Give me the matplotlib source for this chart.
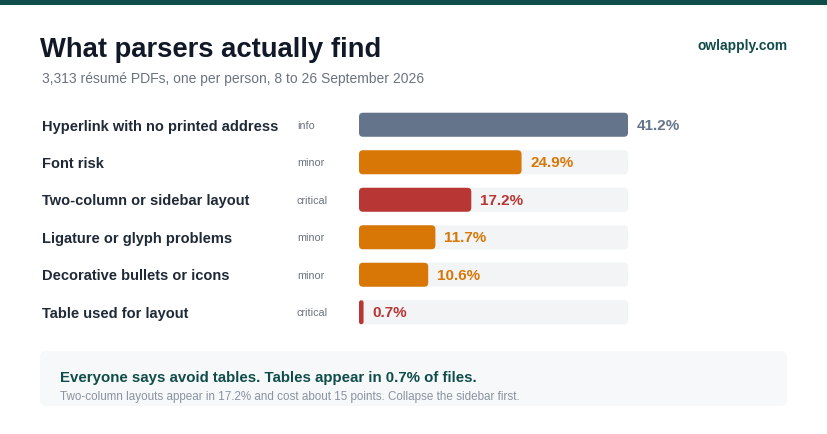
import matplotlib
matplotlib.use("Agg")
import matplotlib.pyplot as plt
from matplotlib.patches import FancyBboxPatch, Rectangle
from matplotlib import transforms

# ---- data ----
categories = ["Hyperlink with no printed address", "Font risk",
              "Two-column or sidebar layout", "Ligature or glyph problems",
              "Decorative bullets or icons", "Table used for layout"]
severity = ["info", "minor", "critical", "minor", "minor", "critical"]
values = [41.2, 24.9, 17.2, 11.7, 10.6, 0.7]
value_labels = ["41.2%", "24.9%", "17.2%", "11.7%", "10.6%", "0.7%"]

title = "What parsers actually find"
subtitle = "3,313 résumé PDFs, one per person, 8 to 26 September 2026"
brand = "owlapply.com"
callout_title = "Everyone says avoid tables. Tables appear in 0.7% of files."
callout_text = "Two-column layouts appear in 17.2% and cost about 15 points. Collapse the sidebar first."

sev_colors = {"info": "#64748b", "minor": "#d97706", "critical": "#b83634"}
TRACK = "#f3f4f6"
TEAL = "#0f4c4a"

plt.rcParams["font.family"] = ["Liberation Sans", "DejaVu Sans"]

W, H = 828, 435
fig = plt.figure(figsize=(W / 100, H / 100), dpi=100)
fig.patch.set_facecolor("white")

def fx(x):
    return x / W

def fy(y):
    return 1 - y / H

def pt(px):
    return px * 72 / 100

# top band
fig.patches.append(Rectangle((0, fy(6)), 1, 6 / H, transform=fig.transFigure,
                             facecolor=TEAL, edgecolor="none"))

# header texts
fig.text(fx(40), fy(57), title, fontsize=pt(27.4), fontweight="bold",
         color="#111827", va="baseline", ha="left")
fig.text(fx(42), fy(83), subtitle, fontsize=pt(13.9), color="#6b7280",
         va="baseline", ha="left")
fig.text(fx(788), fy(50), brand, fontsize=pt(13.8), fontweight="bold",
         color=TEAL, va="baseline", ha="right")

# bar axes: x 359..628 px, y 107..332 px
ax_left, ax_right = 359, 628
ax_top, ax_bot = 107, 332
ax = fig.add_axes([fx(ax_left), fy(ax_bot), (ax_right - ax_left) / W,
                   (ax_bot - ax_top) / H])
ax.set_xlim(0, max(values))
n = len(values)
ax.set_ylim(n - 0.5, -0.5)
ax.axis("off")

px_per_x = (ax_right - ax_left) / max(values)
px_per_y = (ax_bot - ax_top) / n
bar_h = 24 / px_per_y
r_px = 4
aspect = px_per_x / px_per_y

def rbar(x0, y, w, color, z):
    r = min(r_px / px_per_x, w / 2)
    p = FancyBboxPatch((x0, y - bar_h / 2), w, bar_h,
                       boxstyle=f"round,pad=0,rounding_size={r}",
                       mutation_aspect=aspect, facecolor=color,
                       edgecolor="none", zorder=z, clip_on=False)
    ax.add_patch(p)

xmax = max(values)
for i, (v, s) in enumerate(zip(values, severity)):
    rbar(0, i, xmax, TRACK, 1)
    rbar(0, i, v, sev_colors[s], 2)

label_tr = transforms.blended_transform_factory(fig.transFigure, ax.transData)
val_tr = transforms.offset_copy(ax.transData, fig=fig, x=9, y=0, units="dots")
for i, (c, s, v, vl) in enumerate(zip(categories, severity, values, value_labels)):
    ax.text(fx(42), i + 0.02, c, transform=label_tr, fontsize=pt(14.6),
            fontweight="bold", color="#1f2937", va="center", ha="left")
    ax.text(fx(297), i, s, transform=label_tr, fontsize=pt(10.8),
            color="#6b7280", va="center", ha="left")
    ax.text(v, i, vl, transform=val_tr, fontsize=pt(15.2), fontweight="bold",
            color=sev_colors[s], va="center", ha="left", clip_on=False)

# callout box
box = FancyBboxPatch((fx(40), fy(407)), (787 - 40) / W, (407 - 352) / H,
                     boxstyle=f"round,pad=0,rounding_size={6 / W}",
                     mutation_aspect=W / H, transform=fig.transFigure,
                     facecolor="#f6f8f9", edgecolor="none")
fig.patches.append(box)
fig.text(fx(60), fy(382), callout_title, fontsize=pt(15), fontweight="bold",
         color=TEAL, va="baseline", ha="left")
fig.text(fx(60), fy(400), callout_text, fontsize=pt(11.6), color="#8a93a0",
         va="baseline", ha="left")

fig.savefig("out.png", dpi=100, facecolor="white")
